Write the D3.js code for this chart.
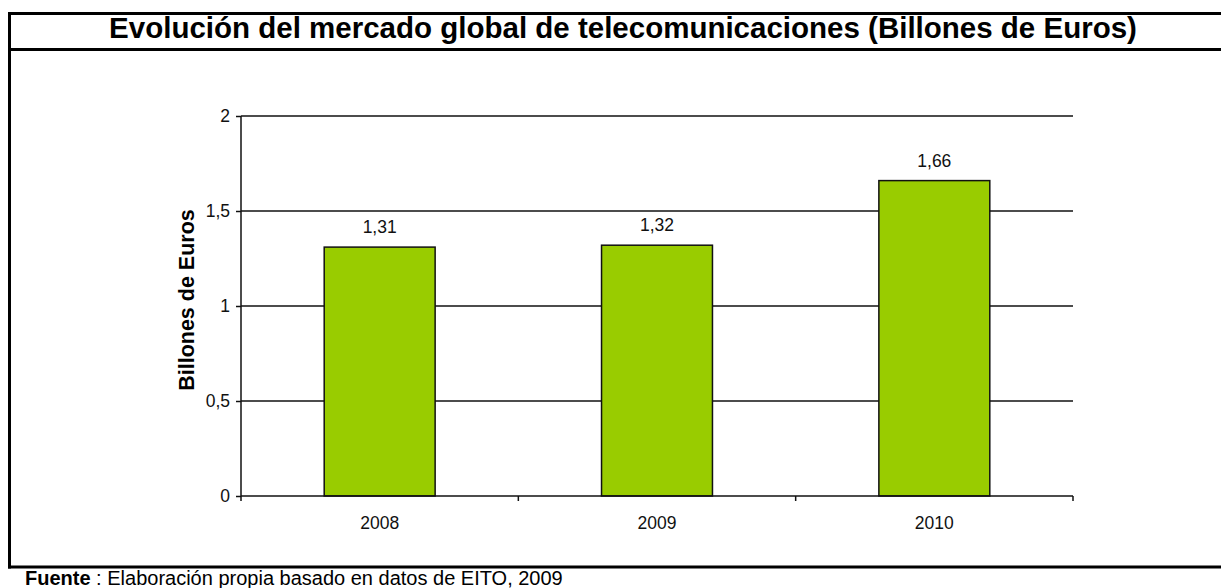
<!DOCTYPE html>
<html>
<head>
<meta charset="utf-8">
<script src="https://cdn.jsdelivr.net/npm/d3@7"></script>
<style>
  html, body { margin: 0; padding: 0; background: #fff; }
  svg { display: block; font-family: "Liberation Sans", Arial, sans-serif; }
</style>
</head>
<body>
<div id="chart"></div>
<script>
// data
var years = ["2008", "2009", "2010"];
var values = [1.31, 1.32, 1.66];
var yTicks = [0, 0.5, 1, 1.5, 2];
var titleText = "Evolución del mercado global de telecomunicaciones (Billones de Euros)";
var yLabel = "Billones de Euros";

var W = 1221, H = 588;
var plot = {left: 241, right: 1073, top: 116, bottom: 496};

var svg = d3.select("#chart").append("svg")
    .attr("width", W)
    .attr("height", H);

var fmt = function(v) { return String(v).replace(".", ","); };

var x = d3.scaleBand()
    .domain(years)
    .range([plot.left, plot.right])
    .paddingInner(0.6)
    .paddingOuter(0.3);

var y = d3.scaleLinear()
    .domain([0, 2])
    .range([plot.bottom, plot.top]);

// frame
var frame = svg.append("g").attr("stroke", "#000").attr("stroke-width", 3);
frame.append("line").attr("x1", 9.5).attr("x2", 9.5).attr("y1", 12).attr("y2", 568.5);
frame.append("line").attr("x1", 8).attr("x2", W).attr("y1", 13.5).attr("y2", 13.5);
frame.append("line").attr("x1", 8).attr("x2", W).attr("y1", 49.5).attr("y2", 49.5);
frame.append("line").attr("x1", 8).attr("x2", W).attr("y1", 567).attr("y2", 567);

// title
svg.append("text")
    .attr("x", 623)
    .attr("y", 38)
    .attr("text-anchor", "middle")
    .style("font-size", "29.5px")
    .style("font-weight", "bold")
    .text(titleText);

// gridlines
svg.append("g")
    .selectAll("line")
    .data(yTicks.filter(function(d) { return d > 0; }))
    .enter().append("line")
    .attr("x1", plot.left).attr("x2", plot.right)
    .attr("y1", function(d) { return y(d); })
    .attr("y2", function(d) { return y(d); })
    .attr("stroke", "#111")
    .attr("stroke-width", 1.5);

// bars
svg.append("g")
    .selectAll("rect")
    .data(values)
    .enter().append("rect")
    .attr("x", function(d, i) { return x(years[i]); })
    .attr("y", function(d) { return y(d); })
    .attr("width", x.bandwidth())
    .attr("height", function(d) { return y(0) - y(d); })
    .attr("fill", "#99cc00")
    .attr("stroke", "#111")
    .attr("stroke-width", 1.5);

// value labels
svg.append("g")
    .selectAll("text")
    .data(values)
    .enter().append("text")
    .attr("x", function(d, i) { return x(years[i]) + x.bandwidth() / 2; })
    .attr("y", function(d) { return y(d) - 14; })
    .attr("text-anchor", "middle")
    .style("font-size", "17.5px")
    .attr("fill", "#111")
    .text(function(d) { return fmt(d); });

// y axis
var yAxis = svg.append("g")
    .attr("transform", "translate(" + plot.left + ",0)")
    .call(d3.axisLeft(y).tickValues(yTicks).tickSize(5).tickPadding(6).tickFormat(fmt));
yAxis.select(".domain").attr("stroke", "#111").attr("stroke-width", 1.5).attr("d", "M0," + plot.top + "V" + plot.bottom);
yAxis.selectAll(".tick line").attr("stroke", "#111").attr("stroke-width", 1.5);
yAxis.selectAll(".tick text").style("font-size", "17.5px").attr("fill", "#111").style("font-family", "'Liberation Sans', Arial, sans-serif");

// x axis with ticks between categories
var bounds = d3.range(years.length + 1).map(function(i) { return plot.left + i * (plot.right - plot.left) / years.length; });
var xAxis = svg.append("g");
xAxis.append("line")
    .attr("x1", plot.left).attr("x2", plot.right)
    .attr("y1", plot.bottom).attr("y2", plot.bottom)
    .attr("stroke", "#111").attr("stroke-width", 1.5);
xAxis.selectAll(".xt")
    .data(bounds)
    .enter().append("line")
    .attr("x1", function(d) { return d; }).attr("x2", function(d) { return d; })
    .attr("y1", plot.bottom).attr("y2", plot.bottom + 5)
    .attr("stroke", "#111").attr("stroke-width", 1.5);
xAxis.selectAll("text")
    .data(years)
    .enter().append("text")
    .attr("x", function(d) { return x(d) + x.bandwidth() / 2; })
    .attr("y", 529)
    .attr("text-anchor", "middle")
    .style("font-size", "17.5px")
    .attr("fill", "#111")
    .text(function(d) { return d; });

// y axis title
svg.append("text")
    .attr("transform", "translate(194,300) rotate(-90)")
    .attr("text-anchor", "middle")
    .style("font-size", "21.5px")
    .style("font-weight", "bold")
    .text(yLabel);

// source line
var src = svg.append("text")
    .attr("x", 25)
    .attr("y", 585)
    .style("font-size", "20px");
src.append("tspan").style("font-weight", "bold").text("Fuente");
src.append("tspan").text(" : Elaboración propia basado en datos de EITO, 2009");
</script>
</body>
</html>
